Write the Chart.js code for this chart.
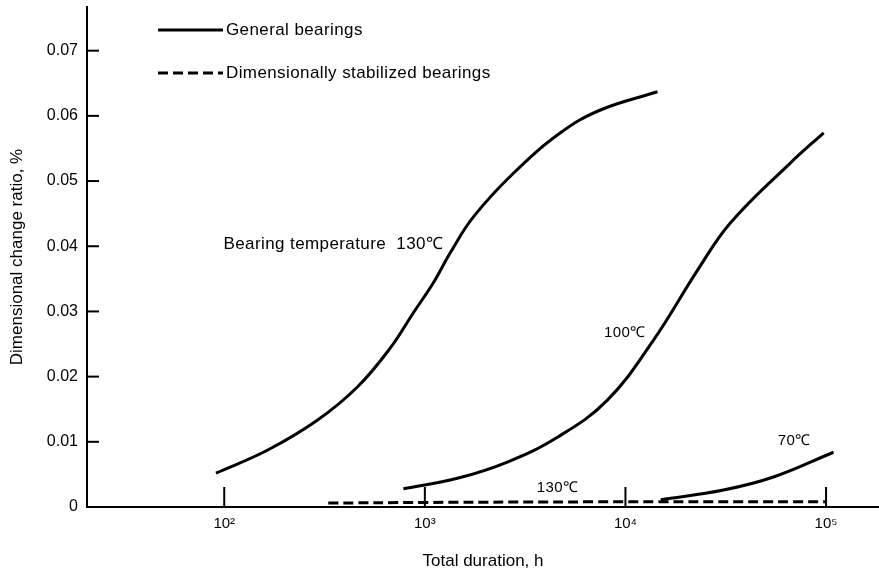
<!DOCTYPE html>
<html>
<head>
<meta charset="utf-8">
<script src="https://cdn.jsdelivr.net/npm/chart.js@4.4.0/dist/chart.umd.min.js"></script>
<style>
  html, body { margin: 0; padding: 0; background: #fff; }
</style>
</head>
<body>
<canvas id="chart" width="879" height="572"></canvas>
<script>
// general bearings, 130 C
const hours130 = [91, 164, 291, 461, 673, 877, 1103, 1339, 1746, 2763, 4742, 7504, 14450];
const ratio130 = [0.0052, 0.0087, 0.0133, 0.0184, 0.0244, 0.0298, 0.0344, 0.0390, 0.0445, 0.0512, 0.0574, 0.0609, 0.0637];
// general bearings, 100 C
const hours100 = [782, 1452, 2578, 4579, 8128, 13800, 22850, 33400, 66530, 97300];
const ratio100 = [0.0028, 0.0044, 0.0069, 0.0107, 0.0164, 0.0256, 0.0363, 0.0436, 0.0528, 0.0574];
// general bearings, 70 C
const hours70 = [15000, 30800, 54700, 108900];
const ratio70 = [0.0011, 0.0026, 0.0046, 0.0084];
// dimensionally stabilized bearings, 130 C
const hoursStab = [330, 1000, 10000, 100000];
const ratioStab = [0.0006, 0.0007, 0.0008, 0.0008];

const yTicks = [0, 0.01, 0.02, 0.03, 0.04, 0.05, 0.06, 0.07];
const xTicks = [100, 1000, 10000, 100000];
const xTickLabels = ['10²', '10³', '10⁴', '10⁵'];

const legendLabels = ['General bearings', 'Dimensionally stabilized bearings'];

const noteTexts = ['Bearing temperature  130℃', '100℃', '70℃', '130℃'];
const noteHours = [1236, 12590, 83700, 5830];
const noteRatios = [0.0403, 0.0267, 0.0101, 0.0029];

const FONT = '"Liberation Sans", Arial, sans-serif';

function toPoints(xs, ys) {
    return xs.map((x, i) => ({ x: x, y: ys[i] }));
}

function lineSet(xs, ys, dashed) {
    return {
        data: toPoints(xs, ys),
        borderColor: '#000',
        borderWidth: 3,
        borderDash: dashed ? [10, 5] : [],
        pointRadius: 0,
        fill: false,
        tension: 0.4
    };
}

// tick marks pointing into the plot, plus legend and curve notes
const decorPlugin = {
    id: 'decor',
    afterDatasetsDraw(chart) {
        const ctx = chart.ctx;
        const xs = chart.scales.x;
        const ys = chart.scales.y;
        const area = chart.chartArea;
        ctx.save();
        ctx.strokeStyle = '#000';
        ctx.lineWidth = 2;
        ctx.setLineDash([]);
        yTicks.forEach(v => {
            if (v === 0) return;
            const py = ys.getPixelForValue(v);
            ctx.beginPath();
            ctx.moveTo(area.left, py);
            ctx.lineTo(area.left + 12, py);
            ctx.stroke();
        });
        xTicks.forEach(v => {
            const px = xs.getPixelForValue(v);
            ctx.beginPath();
            ctx.moveTo(px, area.bottom);
            ctx.lineTo(px, area.bottom - 20);
            ctx.stroke();
        });

        // legend
        ctx.font = '17px ' + FONT;
        ctx.letterSpacing = '0.4px';
        ctx.fillStyle = '#000';
        ctx.textBaseline = 'middle';
        ctx.textAlign = 'left';
        legendLabels.forEach((text, i) => {
            const y = 30 + i * 43;
            ctx.lineWidth = 3;
            ctx.setLineDash(i === 0 ? [] : [10, 5]);
            ctx.beginPath();
            ctx.moveTo(158, y);
            ctx.lineTo(223, y);
            ctx.stroke();
            ctx.fillText(text, 226, y);
        });

        // curve notes
        ctx.textAlign = 'right';
        noteTexts.forEach((text, i) => {
            ctx.font = (i === 0 ? '17px ' : '15px ') + FONT;
            ctx.fillText(text, xs.getPixelForValue(noteHours[i]), ys.getPixelForValue(noteRatios[i]));
        });
        ctx.restore();
    }
};

new Chart(document.getElementById('chart').getContext('2d'), {
    type: 'line',
    data: {
        datasets: [
            lineSet(hours130, ratio130, false),
            lineSet(hours100, ratio100, false),
            lineSet(hours70, ratio70, false),
            lineSet(hoursStab, ratioStab, true)
        ]
    },
    options: {
        responsive: false,
        animation: false,
        layout: { padding: { top: 7, right: 0, bottom: 0, left: 0 } },
        plugins: {
            legend: { display: false },
            tooltip: { enabled: false }
        },
        scales: {
            x: {
                type: 'logarithmic',
                min: 20.7,
                max: 183600,
                afterBuildTicks: scale => { scale.ticks = xTicks.map(v => ({ value: v })); },
                afterFit: scale => {
                    scale.height = 65;
                    scale.paddingLeft = 0;
                    scale.paddingRight = 0;
                },
                grid: { display: false, drawTicks: false },
                border: { display: true, color: '#000', width: 2 },
                ticks: {
                    color: '#000',
                    padding: 8,
                    maxRotation: 0,
                    autoSkip: false,
                    font: { family: FONT, size: 15 },
                    callback: (v) => xTickLabels[xTicks.indexOf(v)]
                },
                title: {
                    display: true,
                    text: 'Total duration, h',
                    color: '#000',
                    font: { family: FONT, size: 17 },
                    padding: { top: 0, bottom: 0 }
                }
            },
            y: {
                min: 0,
                max: 0.0767,
                afterBuildTicks: scale => { scale.ticks = yTicks.map(v => ({ value: v })); },
                afterFit: scale => {
                    scale.width = 87;
                    scale.paddingTop = 0;
                    scale.paddingBottom = 0;
                },
                grid: { display: false, drawTicks: false },
                border: { display: true, color: '#000', width: 2 },
                ticks: {
                    color: '#000',
                    padding: 9,
                    font: { family: FONT, size: 16 },
                    callback: (v) => v === 0 ? '0' : v.toFixed(2)
                },
                title: {
                    display: true,
                    text: 'Dimensional change ratio, %',
                    color: '#000',
                    font: { family: FONT, size: 17 },
                    padding: { top: 7, bottom: 0 }
                }
            }
        }
    },
    plugins: [decorPlugin]
});
</script>
</body>
</html>
